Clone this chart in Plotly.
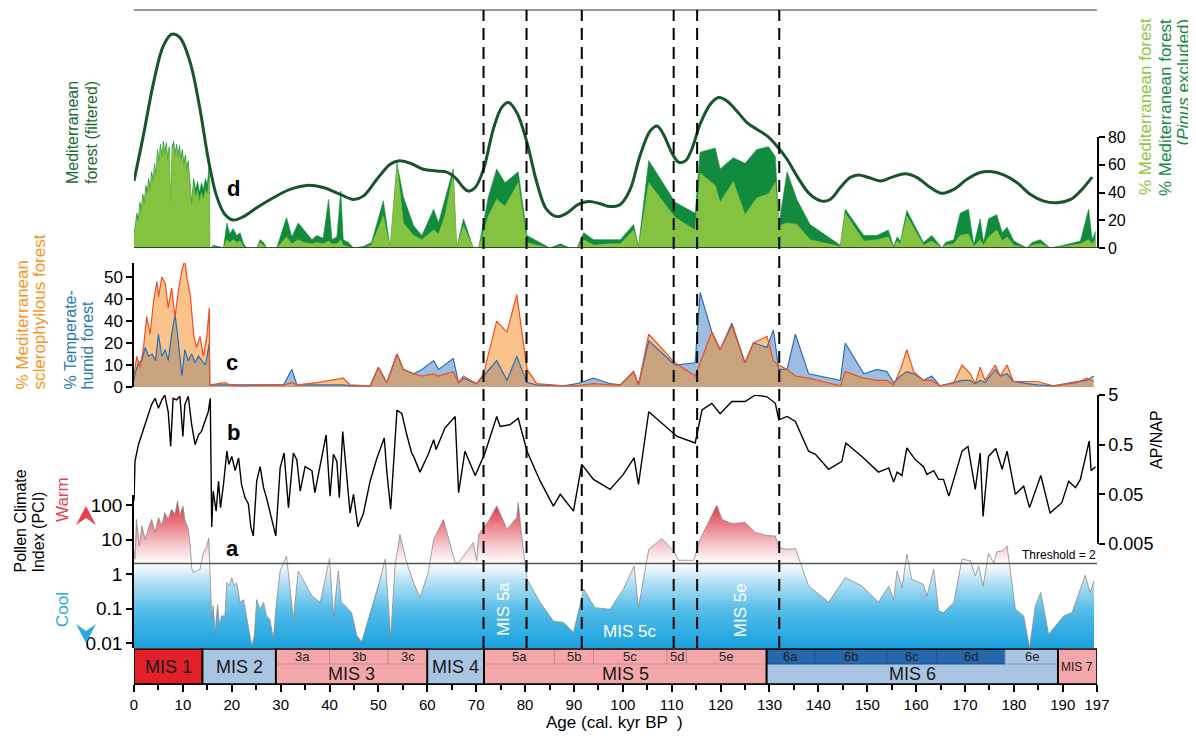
import math
import plotly.graph_objects as go

# ---------------- DATA ----------------
# Panel d: % Mediterranean forest (light) and % Mediterranean forest, Pinus excluded (dark)
age_d_holo = [0.0, 0.3, 0.6, 0.9, 1.2, 1.5, 1.8, 2.1, 2.4, 2.7,
              3.0, 3.3, 3.6, 3.9, 4.2, 4.5, 4.8, 5.1, 5.4, 5.7,
              6.0, 6.3, 6.6, 6.9, 7.2, 7.5, 7.8, 8.1, 8.4, 8.7,
              9.0, 9.3, 9.6, 9.9, 10.2, 10.5, 10.8, 11.1, 11.4, 11.8,
              12.2, 12.6, 13.0, 13.4, 13.8, 14.2, 14.6, 15.0, 15.4]
med_holo = [8, 14, 22, 18, 30, 25, 36, 30, 42, 38,
            47, 40, 52, 46, 58, 50, 68, 60, 72, 64,
            74, 66, 73, 62, 70, 28, 70, 74, 65, 72,
            64, 71, 62, 68, 58, 64, 55, 60, 48, 28,
            45, 36, 42, 33, 40, 34, 42, 38, 50]
med_np_holo = [10, 17, 25, 21, 33, 28, 39, 33, 45, 41,
               50, 43, 55, 49, 61, 53, 71, 63, 75, 67,
               77, 69, 76, 65, 73, 31, 73, 77, 68, 75,
               67, 74, 65, 71, 61, 67, 58, 63, 52, 33,
               50, 42, 48, 40, 47, 42, 50, 46, 60]
age_d_late = [15.5, 15.7, 16.2, 17.3, 18.3, 19.0, 19.6, 20.3, 21.0, 21.7,
              22.4, 23.1, 25.1, 25.8, 26.5, 27.1, 29.2, 31.2, 32.3, 33.6,
              34.7, 36.4, 37.4, 38.7, 39.8, 40.5, 41.5, 42.3, 42.8, 43.9,
              44.9, 46.9, 48.6, 51.0, 52.4, 53.8, 55.1, 57.2, 58.9, 61.3,
              62.3, 63.6, 65.3, 66.0, 67.4, 69.4, 70.5, 72.5, 74.2, 75.9,
              78.6, 80.4, 82.4, 85.1, 87.2, 89.2, 90.6, 92.0, 94.0, 97.4,
              99.5, 102.2, 103.2, 105.3, 110.7, 114.8, 115.8, 118.9, 119.9, 122.6,
              125.0, 127.4, 129.8, 131.2, 131.9, 133.6, 135.6, 138.3, 144.5, 145.5,
              149.3, 152.0, 154.3, 155.4, 156.1, 156.8, 158.1, 161.5, 163.2, 165.3,
              166.0, 167.7, 169.0, 170.7, 171.8, 173.1, 173.8, 174.8, 176.5, 177.6,
              178.6, 180.0, 182.7, 183.7, 185.4, 187.4, 190.2, 193.6, 195.3, 196.0,
              196.7]
med_np_late = [0, 0, 2, 1, 0, 18, 10, 14, 9, 11,
               3, 0, 0, 6, 4, 0, 0, 22, 8, 18,
               13, 6, 9, 7, 35, 6, 8, 41, 6, 4,
               0, 1, 4, 34, 0, 61, 37, 16, 9, 28,
               18, 35, 57, 0, 21, 0, 0, 37, 57, 47,
               55, 9, 5, 0, 3, 0, 0, 11, 6, 6,
               6, 17, 1, 63, 33, 25, 69, 72, 57, 65,
               61, 71, 73, 66, 16, 55, 35, 17, 2, 28,
               9, 9, 13, 1, 8, 5, 27, 4, 9, 0,
               4, 6, 25, 28, 2, 21, 4, 21, 24, 11,
               15, 5, 0, 4, 6, 0, 2, 5, 28, 6,
               12]
med_late = [0, 0, 1, 0, 0, 6, 4, 6, 4, 5,
            1, 0, 0, 4, 2, 0, 0, 8, 3, 6,
            4, 3, 4, 3, 5, 3, 3, 6, 2, 1,
            0, 0, 2, 23, 0, 60, 18, 9, 6, 13,
            10, 23, 53, 0, 16, 0, 0, 23, 35, 30,
            47, 4, 2, 0, 1, 0, 0, 6, 2, 3,
            3, 13, 0, 47, 22, 13, 54, 45, 33, 48,
            24, 36, 39, 47, 16, 18, 17, 6, 1, 25,
            5, 6, 8, 0, 5, 3, 23, 2, 5, 0,
            2, 3, 9, 10, 1, 6, 2, 8, 13, 5,
            8, 2, 0, 2, 3, 0, 1, 3, 6, 3,
            6]

# Mediterranean forest (filtered), relative units (hidden scale)
age_filt = [0.0, 1.9, 4.0, 6.0, 7.7, 9.4, 11.5, 13.5, 15.2, 16.9,
            18.6, 20.3, 22.4, 25.1, 28.5, 31.9, 35.3, 38.7, 42.2, 44.9,
            46.9, 49.7, 52.4, 54.1, 56.5, 59.2, 61.9, 64.0, 65.7, 67.4,
            68.4, 69.8, 71.5, 73.5, 75.2, 76.6, 78.3, 80.4, 82.4, 84.4,
            86.5, 88.5, 90.9, 93.0, 95.4, 97.4, 99.5, 101.5, 103.5, 105.6,
            107.0, 108.3, 110.0, 111.4, 112.8, 114.1, 115.8, 117.9, 119.6, 121.3,
            123.3, 125.4, 127.4, 129.5, 131.5, 133.6, 135.6, 138.3, 140.7, 142.4,
            144.5, 146.5, 148.2, 150.3, 152.7, 155.1, 157.8, 160.2, 162.9, 165.3,
            167.7, 170.4, 173.1, 175.2, 177.9, 180.6, 183.4, 186.1, 188.8, 191.6,
            193.6, 196.0]
med_filt = [28.2, 47.1, 69.5, 84.9, 89.8, 88.4, 77.9, 58.3, 37.3, 21.8,
            14.1, 11.8, 13.2, 16.9, 21.1, 24.6, 26.3, 25.4, 22.5, 20.4,
            21.8, 28.9, 35.2, 36.6, 35.6, 33.1, 32.4, 31.9, 29.6, 25.4,
            23.9, 25.4, 33.1, 49.9, 59.0, 61.1, 56.9, 44.3, 27.5, 16.2,
            13.2, 14.6, 18.3, 19.5, 18.6, 17.4, 18.3, 24.6, 38.7, 49.2,
            51.3, 47.8, 40.1, 36.1, 36.6, 41.5, 52.0, 60.4, 63.2, 61.8,
            57.6, 52.7, 49.9, 47.1, 42.9, 37.3, 30.3, 22.5, 19.7, 20.4,
            25.4, 29.6, 30.7, 29.6, 28.2, 29.8, 31.2, 29.6, 25.4, 23.0,
            24.6, 28.9, 31.7, 32.1, 30.7, 27.5, 22.5, 19.7, 19.0, 20.4,
            23.9, 29.8]

# Panel c: % Mediterranean sclerophyllous forest and % Temperate-humid forest
age_c_med_holo = [0.0, 0.2, 0.55, 1.2, 1.9, 2.6, 3.3, 4.0, 4.7, 5.0,
                  5.7, 6.4, 7.0, 7.7, 8.4, 9.1, 9.8, 10.4, 10.8, 11.5,
                  12.2, 12.8, 13.5, 14.2, 14.9, 15.4]
scl_holo = [5, 9, 14, 9, 17, 32, 24, 39, 48, 41,
            50, 47, 36, 45, 32, 44, 53, 58, 50, 42,
            24, 18, 23, 14, 23, 36]
age_c_temp_holo = [0.0, 0.2, 0.9, 1.6, 2.3, 3.0, 3.7, 4.4, 5.0, 5.7,
                   6.4, 7.0, 7.7, 8.4, 9.1, 9.8, 10.4, 11.1, 11.8, 12.5,
                   13.2, 13.9, 14.6, 15.2, 15.4]
temp_holo = [3, 6, 11, 12, 18, 14, 15, 12, 24, 14,
             17, 12, 24, 33, 20, 5, 17, 12, 15, 11,
             14, 12, 10, 17, 20]
age_c_late = [15.5, 15.7, 18.6, 19.6, 21.7, 30.6, 32.3, 33.3, 37.4, 42.8,
              44.2, 48.3, 50.0, 51.7, 53.8, 55.1, 57.2, 58.9, 61.3, 62.3,
              65.3, 66.4, 67.4, 70.1, 71.5, 74.2, 76.3, 78.3, 80.4, 82.4,
              87.9, 90.6, 94.0, 97.4, 99.5, 102.2, 103.2, 105.3, 110.7, 114.8,
              115.8, 118.2, 119.9, 122.3, 125.0, 126.7, 129.5, 130.8, 131.9, 133.6,
              135.3, 138.0, 144.5, 145.5, 149.3, 152.0, 154.0, 155.4, 156.8, 158.1,
              159.5, 161.5, 163.2, 164.9, 167.7, 169.4, 171.1, 172.1, 173.1, 174.1,
              176.2, 177.2, 178.6, 179.9, 184.7, 188.1, 192.9, 194.9, 196.3]
scl_late = [1, 1, 2, 1, 0.5, 1, 2, 1, 2, 4,
            1, 0.5, 9, 2, 15, 8, 6, 5, 6, 5,
            7, 2, 5, 1.5, 6, 30, 25, 42, 8, 1.5,
            0.5, 0.5, 1.5, 1, 1, 7, 1, 24, 11, 5,
            11, 25, 17, 28, 11, 20, 23, 12, 10, 8,
            5, 4, 0.5, 7, 4, 3, 3, 1, 8, 17,
            7, 3, 3, 0.5, 2, 10, 6, 1.5, 9, 3,
            10, 5, 10, 2.5, 2.5, 0.5, 2, 4, 2.5]
temp_late = [1, 1, 1, 1, 1, 1, 8, 1, 1, 1,
             0.5, 0.5, 9, 2, 15, 8, 6, 8, 12, 8,
             13, 2, 4, 1.5, 5, 12, 3, 14, 2, 1,
             0.5, 1.5, 4, 1.5, 1, 7, 1, 21, 10, 11,
             43, 25, 17, 29, 11, 20, 18, 26, 8, 8,
             24, 6, 3, 20, 6, 8, 7, 2, 5, 7,
             6, 3, 5, 0.5, 2, 3, 3, 1.5, 3, 2,
             8, 5, 6, 2.5, 1, 0.5, 2.5, 3, 5]

# Panel b: AP/NAP
age_b = [0.0, 0.2, 0.9, 1.6, 2.3, 2.9, 3.6, 4.3, 5.0, 5.7,
         6.3, 7.0, 7.5, 8.0, 8.7, 9.4, 10.0, 10.4, 11.1, 11.8,
         12.5, 13.2, 13.8, 14.5, 15.2, 15.6, 15.9, 16.2, 16.8, 17.3,
         17.7, 18.3, 19.0, 19.4, 20.0, 20.7, 21.4, 22.0, 22.7, 23.4,
         23.9, 24.4, 25.1, 25.8, 26.5, 27.1, 27.8, 28.5, 29.0, 29.9,
         30.7, 31.6, 32.6, 33.3, 34.0, 35.0, 36.4, 37.0, 38.1, 39.3,
         40.1, 40.8, 41.5, 42.0, 42.7, 43.4, 44.2, 44.9, 45.8, 46.9,
         48.3, 49.7, 51.2, 51.7, 52.5, 53.8, 54.8, 55.8, 56.8, 57.2,
         58.5, 60.2, 61.3, 61.8, 63.6, 65.7, 66.4, 67.7, 69.8, 71.8,
         74.2, 74.9, 76.9, 78.6, 80.4, 83.1, 85.8, 87.2, 89.9, 91.6,
         94.0, 97.4, 100.1, 102.3, 103.2, 105.3, 108.3, 111.1, 114.8, 116.2,
         118.2, 119.9, 122.3, 125.0, 127.1, 129.5, 131.2, 131.9, 133.6, 135.3,
         138.0, 139.4, 142.1, 144.8, 145.6, 148.9, 152.3, 154.4, 155.4, 156.1,
         157.1, 158.1, 159.8, 161.5, 162.2, 163.6, 164.6, 165.6, 166.7, 169.4,
         170.6, 172.1, 173.1, 173.7, 174.8, 176.3, 177.6, 178.6, 180.3, 182.0,
         183.2, 185.5, 187.4, 189.8, 191.2, 192.6, 193.6, 195.4, 195.8, 196.7]
apnap = [0.037, 0.23, 0.50, 0.79, 1.26, 2.0, 3.2, 4.3, 2.7, 4.0,
         5.0, 2.3, 0.46, 4.3, 4.0, 4.7, 0.73, 3.2, 4.7, 1.26,
         0.50, 0.79, 0.92, 1.47, 2.3, 4.3, 0.011, 0.058, 0.023, 0.092,
         0.027, 0.079, 0.37, 0.20, 0.29, 0.15, 0.27, 0.079, 0.043, 0.032,
         0.011, 0.0073, 0.092, 0.18, 0.068, 0.043, 0.023, 0.011, 0.0073, 0.17,
         0.34, 0.027, 0.34, 0.25, 0.058, 0.18, 0.15, 0.054, 0.20, 0.79,
         0.046, 0.32, 0.23, 0.043, 0.92, 0.15, 0.021, 0.050, 0.011, 0.020,
         0.092, 0.27, 0.68, 0.15, 0.025, 2.5, 2.1, 0.79, 0.34, 0.29,
         0.14, 0.32, 0.63, 0.40, 1.08, 1.85, 0.054, 0.37, 0.12, 0.34,
         1.85, 1.16, 1.26, 1.7, 0.37, 0.092, 0.029, 0.050, 0.023, 0.20,
         0.10, 0.063, 0.126, 0.27, 0.079, 2.3, 1.26, 0.73, 0.54, 2.5,
         3.4, 2.1, 3.7, 3.7, 5.0, 4.6, 3.4, 1.58, 1.85, 1.47,
         0.37, 0.32, 0.16, 0.23, 0.54, 0.29, 0.14, 0.17, 0.088, 0.14,
         0.12, 0.43, 0.25, 0.18, 0.126, 0.15, 0.10, 0.10, 0.046, 0.37,
         0.46, 0.063, 0.34, 0.018, 0.29, 0.42, 0.16, 0.37, 0.050, 0.073,
         0.027, 0.12, 0.021, 0.034, 0.092, 0.068, 0.10, 0.59, 0.15, 0.18]

# Panel a: Pollen Climate Index
age_pci = [0.0, 0.2, 0.5, 1.1, 1.6, 2.3, 2.9, 3.6, 4.3, 5.0,
           5.7, 6.3, 7.0, 7.7, 8.4, 8.9, 9.4, 10.0, 10.4, 11.1,
           11.5, 11.8, 12.1, 12.8, 13.5, 14.2, 14.9, 15.3, 15.6, 15.9,
           16.2, 16.6, 17.1, 17.5, 17.9, 18.6, 19.0, 19.5, 20.0, 20.5,
           21.0, 21.7, 22.4, 23.1, 23.5, 24.1, 24.6, 25.1, 25.8, 26.5,
           27.1, 27.8, 28.5, 29.2, 29.9, 31.2, 32.6, 33.6, 35.3, 36.4,
           38.1, 40.0, 40.8, 41.8, 42.4, 43.2, 44.5, 45.6, 46.6, 48.3,
           50.0, 51.4, 52.5, 53.4, 54.4, 55.8, 57.2, 58.5, 60.2, 61.3,
           63.3, 65.7, 66.4, 69.4, 70.1, 70.5, 72.5, 74.2, 76.3, 78.3,
           78.6, 79.3, 80.4, 83.1, 85.8, 87.9, 89.9, 92.0, 94.3, 97.4,
           100.1, 102.3, 103.2, 105.3, 108.0, 110.4, 111.4, 114.5, 115.8, 119.2,
           120.3, 122.3, 125.0, 127.1, 129.5, 131.2, 131.9, 133.6, 135.3, 138.0,
           142.1, 145.5, 148.9, 152.3, 154.4, 155.4, 156.1, 157.1, 158.1, 159.1,
           161.5, 162.2, 163.6, 164.6, 165.6, 167.7, 169.4, 171.1, 172.1, 172.8,
           173.7, 174.8, 175.9, 176.5, 177.6, 178.6, 180.3, 182.0, 183.2, 184.4,
           185.5, 187.1, 190.2, 191.9, 194.6, 195.6, 196.4]
pci = [5, 2.7, 38, 6.5, 25, 10, 20, 38, 16, 43,
       25, 60, 38, 75, 54, 130, 48, 94, 38, 20,
       6.5, 1.5, 1.1, 1.2, 1.37, 4.2, 6.5, 11, 0.45, 0.049,
       0.12, 0.020, 0.13, 0.031, 0.061, 0.061, 0.56, 0.45, 0.78, 0.45,
       0.56, 0.15, 0.18, 0.049, 0.020, 0.0082, 0.016, 0.18, 0.095, 0.15,
       0.061, 0.049, 0.013, 0.18, 1.22, 3.3, 0.049, 1.22, 0.45, 0.23,
       0.15, 2.8, 0.061, 1.22, 0.15, 0.12, 0.076, 0.016, 0.011, 0.076,
       0.45, 2.7, 0.014, 1.7, 14, 2.1, 0.56, 0.21, 1.1, 10,
       38, 2.1, 2.1, 8.1, 2.4, 14, 34, 94, 20, 43,
       117, 13, 0.70, 0.15, 0.043, 0.039, 0.020, 0.36, 0.106, 0.095,
       0.36, 1.7, 0.106, 5.2, 10.6, 4.6, 2.5, 2.5, 10, 98,
       38, 29, 31, 16, 13, 12.6, 5.8, 5.2, 5.4, 0.45,
       0.154, 0.78, 0.45, 0.154, 0.45, 0.18, 1.22, 0.40, 3.7, 0.70,
       0.50, 0.23, 1.37, 0.085, 0.076, 0.15, 2.7, 2.4, 0.88, 1.7,
       0.45, 3.9, 2.1, 4.4, 4.6, 6.5, 0.095, 0.061, 0.0073, 0.12,
       0.29, 0.018, 0.061, 0.076, 0.92, 0.29, 0.63]
pci_threshold = 2.0
pci_floor = 0.0071

# Marine isotope stages
mis_names = ["MIS 1", "MIS 2", "MIS 3", "MIS 4", "MIS 5", "MIS 6", "MIS 7"]
mis_start = [0, 14, 29, 60, 71.6, 129.4, 189]
mis_end = [14, 29, 60, 71.6, 129.4, 189, 197]
mis_has_sub = [False, False, True, False, True, True, False]
sub_names = ["3a", "3b", "3c", "5a", "5b", "5c", "5d", "5e", "6a", "6b", "6c", "6d", "6e"]
sub_start = [29, 40, 52, 71.6, 86, 94, 109, 113, 129.4, 139.3, 154, 164.2, 178.2]
sub_end = [40, 52, 60, 86, 94, 109, 113, 129.4, 139.3, 154, 164.2, 178.2, 189]
dashed_ages = [71.5, 80.3, 91.6, 110.4, 115.2, 132.0]
x_ticks = [0, 10, 20, 30, 40, 50, 60, 70, 80, 90, 100, 110, 120, 130, 140, 150, 160, 170, 180, 190, 197]

# ---------------- STYLE / LAYOUT HELPERS ----------------
# page is shown with an 8px body margin: figure is shifted to compensate
OFF = 8
W, H = 1196 - OFF, 738 - OFF
ML, MR, MT, MB = 134 - OFF, 99, 10 - OFF, 54
PW, PH = W - ML - MR, H - MT - MB   # 963 x 674
X0, YB = 134, 684                   # plot-area left / bottom in page pixels
FONT = "Liberation Sans, Arial, Helvetica, sans-serif"

def fx(px):
    return (px - X0) / PW

def fy(py):
    return (YB - py) / PH

RED, PINK, LBLUE, DBLUE = "#e2202a", "#f4a7ab", "#a9c5e2", "#2567ab"
mis_colors = [RED, LBLUE, PINK, LBLUE, PINK, LBLUE, PINK]
sub_colors = [PINK] * 8 + [DBLUE] * 4 + [LBLUE]
sub_lines = ["#cc8a8f"] * 8 + ["#1d5591"] * 4 + ["#7f9fc4"]

fig = go.Figure()

# ---- panel a: PCI (yaxis 'y') ----
lt = math.log10(pci_threshold)
xa, ya = [], []
for i in range(len(age_pci)):
    if i > 0:
        l0, l1 = math.log10(pci[i - 1]), math.log10(pci[i])
        if (l0 - lt) * (l1 - lt) < 0:
            t = (lt - l0) / (l1 - l0)
            xa.append(age_pci[i - 1] + t * (age_pci[i] - age_pci[i - 1]))
            ya.append(pci_threshold)
    xa.append(age_pci[i])
    ya.append(pci[i])
cool_top = [min(v, pci_threshold) for v in ya]
warm_top = [max(v, pci_threshold) for v in ya]

fig.add_trace(go.Scatter(x=xa, y=[pci_floor] * len(xa), yaxis="y", mode="lines",
                         line=dict(width=0), hoverinfo="skip", showlegend=False))
fig.add_trace(go.Scatter(x=xa, y=cool_top, yaxis="y", mode="lines", fill="tonexty",
                         line=dict(width=0), hoverinfo="skip", showlegend=False,
                         fillgradient=dict(type="vertical",
                                           colorscale=[[0, "#19a0dd"], [0.45, "#55bde9"],
                                                       [0.8, "#b9e2f5"], [1, "#ffffff"]])))
fig.add_trace(go.Scatter(x=xa, y=[pci_threshold] * len(xa), yaxis="y", mode="lines",
                         line=dict(width=0), hoverinfo="skip", showlegend=False))
fig.add_trace(go.Scatter(x=xa, y=warm_top, yaxis="y", mode="lines", fill="tonexty",
                         line=dict(width=0), hoverinfo="skip", showlegend=False,
                         fillgradient=dict(type="vertical",
                                           colorscale=[[0, "#ffffff"], [0.3, "#f6c7cb"],
                                                       [1, "#de2a37"]])))
fig.add_trace(go.Scatter(x=age_pci, y=pci, yaxis="y", mode="lines",
                         line=dict(color="#8a8a8a", width=0.8), showlegend=False))
fig.add_trace(go.Scatter(x=[0, 197], y=[pci_threshold, pci_threshold], yaxis="y", mode="lines",
                         line=dict(color="#555555", width=1.5), showlegend=False))

# ---- panel b: AP/NAP (y2) ----
fig.add_trace(go.Scatter(x=age_b, y=apnap, yaxis="y2", mode="lines",
                         line=dict(color="black", width=1.4), showlegend=False))

# ---- panel c (y3) ----
fig.add_trace(go.Scatter(x=age_c_temp_holo + age_c_late, y=temp_holo + temp_late, yaxis="y3",
                         mode="lines", fill="tozeroy", fillcolor="rgba(60,125,195,0.5)",
                         line=dict(width=0), showlegend=False))
fig.add_trace(go.Scatter(x=age_c_med_holo + age_c_late, y=scl_holo + scl_late, yaxis="y3",
                         mode="lines", fill="tozeroy", fillcolor="rgba(245,135,25,0.5)",
                         line=dict(width=0), showlegend=False))
fig.add_trace(go.Scatter(x=age_c_temp_holo + age_c_late, y=temp_holo + temp_late, yaxis="y3",
                         mode="lines", line=dict(color="#2c6fb7", width=1.2), showlegend=False))
fig.add_trace(go.Scatter(x=age_c_med_holo + age_c_late, y=scl_holo + scl_late, yaxis="y3",
                         mode="lines", line=dict(color="#ef4e23", width=1.2), showlegend=False))

# ---- panel d (y4) ----
fig.add_trace(go.Scatter(x=age_d_holo + age_d_late, y=med_np_holo + med_np_late, yaxis="y4",
                         mode="lines", fill="tozeroy", fillcolor="#138b3f",
                         line=dict(color="#138b3f", width=0.6), showlegend=False))
fig.add_trace(go.Scatter(x=age_d_holo + age_d_late, y=med_holo + med_late, yaxis="y4",
                         mode="lines", fill="tozeroy", fillcolor="#84c341",
                         line=dict(color="#84c341", width=0.6), showlegend=False))

# ---- filtered curve (y5, hidden scale) ----
fig.add_trace(go.Scatter(x=age_filt, y=med_filt, yaxis="y5", mode="lines",
                         line=dict(color="#17552b", width=3, shape="spline", smoothing=1.0),
                         showlegend=False))

# ---------------- AXES ----------------
tickfont = lambda s: dict(family=FONT, size=s, color="black")
common = dict(showgrid=False, zeroline=False, showline=True, linecolor="black", linewidth=1.5,
              ticks="outside", ticklen=6, tickwidth=1.5, tickcolor="black", anchor="x",
              automargin=False)

fig.update_layout(
    xaxis=dict(domain=[0, 1], range=[0, 197], anchor="free", position=0, showgrid=False,
               zeroline=False, showline=True, linecolor="black", linewidth=1.5,
               ticks="outside", ticklen=7, tickwidth=1.5, tickcolor="black", automargin=False,
               tickmode="array", tickvals=x_ticks, ticktext=[str(v) for v in x_ticks],
               tickfont=tickfont(15),
               minor=dict(ticks="outside", ticklen=5, tickwidth=1.5, tickcolor="black",
                          tickmode="array", tickvals=[v + 5 for v in x_ticks[:-2]])),
    yaxis=dict(domain=[fy(648), fy(495)], type="log", range=[-2.145, 2.29], side="left",
               tickmode="array", tickvals=[0.01, 0.1, 1, 10, 100],
               ticktext=["0.01", "0.1", "1", "10", "100"], tickfont=tickfont(19), **common),
    yaxis2=dict(domain=[fy(544), fy(395)], type="log", range=[math.log10(0.005), math.log10(5)],
                side="right", tickmode="array", tickvals=[0.005, 0.05, 0.5, 5],
                ticktext=["0.005", "0.05", "0.5", "5"], tickfont=tickfont(18), **common),
    yaxis3=dict(domain=[fy(387), fy(263)], range=[0, 56.4], side="left",
                tickmode="array", tickvals=[0, 10, 20, 30, 40, 50],
                ticktext=["0", "10", "20", "40", "40", "50"], tickfont=tickfont(17), **common),
    yaxis4=dict(domain=[fy(248), fy(137)], range=[0, 80], side="right",
                tickmode="array", tickvals=[0, 20, 40, 60, 80],
                ticktext=["0", "20", "40", "60", "80"], tickfont=tickfont(16), **common),
    yaxis5=dict(domain=[fy(248), fy(10)], range=[0, 100], visible=False, anchor="x",
                showgrid=False, zeroline=False, automargin=False),
)

# ---------------- SHAPES ----------------
shapes = []
shapes.append(dict(type="line", xref="paper", yref="paper", x0=0, x1=1, y0=1, y1=1,
                   line=dict(color="#777777", width=1.5)))
shapes.append(dict(type="line", xref="paper", yref="y4", x0=0, x1=1, y0=0, y1=0,
                   line=dict(color="#222222", width=1.5)))
bar_top, bar_mid = fy(649), fy(664)
for s, e, c in zip(mis_start, mis_end, mis_colors):
    shapes.append(dict(type="rect", xref="x", yref="paper", x0=s, x1=e, y0=0, y1=bar_top,
                       fillcolor=c, line=dict(width=0), layer="above"))
for s, e, c, lc in zip(sub_start, sub_end, sub_colors, sub_lines):
    shapes.append(dict(type="rect", xref="x", yref="paper", x0=s, x1=e, y0=bar_mid, y1=bar_top,
                       fillcolor=c, line=dict(color=lc, width=1), layer="above"))
for s, e in zip(mis_start, mis_end):
    shapes.append(dict(type="rect", xref="x", yref="paper", x0=s, x1=e, y0=0, y1=bar_top,
                       fillcolor="rgba(0,0,0,0)", line=dict(color="black", width=1.6),
                       layer="above"))
for a in dashed_ages:
    shapes.append(dict(type="line", xref="x", yref="paper", x0=a, x1=a, y0=fy(648), y1=1,
                       line=dict(color="black", width=2, dash="12px,7px"), layer="above"))

def P(px, py):
    return f"{fx(px):.5f},{fy(py):.5f}"
shapes.append(dict(type="path", xref="paper", yref="paper",
                   path=f"M {P(86,506)} L {P(96,525)} L {P(86,518)} L {P(76,525)} Z",
                   fillcolor="#e8414b", line=dict(width=0)))
shapes.append(dict(type="path", xref="paper", yref="paper",
                   path=f"M {P(86,643)} L {P(96,624)} L {P(86,631)} L {P(76,624)} Z",
                   fillcolor="#29abe2", line=dict(width=0)))
fig.update_layout(shapes=shapes)

# ---------------- ANNOTATIONS ----------------
anns = []
def ann(text, px, py, size, color="black", angle=0, bold=False, xanchor="center",
        yanchor="middle"):
    if bold:
        text = f"<b>{text}</b>"
    anns.append(dict(text=text, x=fx(px), y=fy(py), xref="paper", yref="paper",
                     showarrow=False, textangle=angle, xanchor=xanchor, yanchor=yanchor,
                     font=dict(family=FONT, size=size, color=color), borderpad=0))

ORANGE_T, BLUE_T, DGREEN_T = "#f7941d", "#2e75b6", "#1b6b35"
ann("Mediterranean", 72, 133, 16, DGREEN_T, -90)
ann("forest (filtered)", 91, 133, 16, DGREEN_T, -90)
ann("% Mediterranean", 22, 391, 17, ORANGE_T, -90, yanchor="bottom")
ann("sclerophyllous forest", 39, 391, 17, ORANGE_T, -90, yanchor="bottom")
ann("% Temperate-", 70, 391, 16, BLUE_T, -90, yanchor="bottom")
ann("humid forest", 87, 391, 16, BLUE_T, -90, yanchor="bottom")
ann("Pollen Climate", 20, 574, 16, "black", -90, yanchor="bottom")
ann("Index (PCI)", 38, 574, 16, "black", -90, yanchor="bottom")
ann("Warm", 62, 500, 17, "#e8414b", -90)
ann("Cool", 62, 610, 17, "#29abe2", -90)
ann("% Mediterranean forest", 1145, 107, 17, "#8dc63f", -90)
ann("% Mediterranean forest", 1165, 108, 17, "#15893f", -90)
ann("(<i>Pinus</i> excluded)", 1183, 18, 17, "#15893f", -90, yanchor="top")
ann("AP/NAP", 1157, 440, 16, "black", -90)
ann("Threshold = 2", 1097, 555, 12, "black", 0, xanchor="right")
ann("d", 233, 188, 22, bold=True)
ann("c", 232, 363, 22, bold=True)
ann("b", 233, 432, 22, bold=True)
ann("a", 232, 548, 22, bold=True)
ann("Age (cal. kyr BP  )", 614, 722, 17)

for txt, age, py, ang in [("MIS 5a", 75.5, 609, -90), ("MIS 5c", 101.3, 631, 0),
                          ("MIS 5e", 124.0, 610, -90)]:
    anns.append(dict(text=txt, x=age, y=fy(py), xref="x", yref="paper", showarrow=False,
                     textangle=ang, xanchor="center", yanchor="middle",
                     font=dict(family=FONT, size=17, color="white")))

y_full = bar_top / 2
y_low = bar_mid / 2
y_up = (bar_mid + bar_top) / 2
for n, s, e, hs in zip(mis_names, mis_start, mis_end, mis_has_sub):
    size = 12 if n == "MIS 7" else 18
    anns.append(dict(text=n, x=(s + e) / 2, y=y_low if hs else y_full, xref="x", yref="paper",
                     showarrow=False, yanchor="middle",
                     font=dict(family=FONT, size=size, color="#1a1a1a")))
for n, s, e in zip(sub_names, sub_start, sub_end):
    anns.append(dict(text=n, x=(s + e) / 2, y=y_up, xref="x", yref="paper",
                     showarrow=False, yanchor="middle",
                     font=dict(family=FONT, size=13, color="#222222")))
fig.update_layout(annotations=anns)

fig.update_layout(width=W, height=H, margin=dict(l=ML, r=MR, t=MT, b=MB, pad=0, autoexpand=False),
                  plot_bgcolor="rgba(0,0,0,0)", paper_bgcolor="white", showlegend=False,
                  font=dict(family=FONT, color="black"))

fig.write_html("out.html")
